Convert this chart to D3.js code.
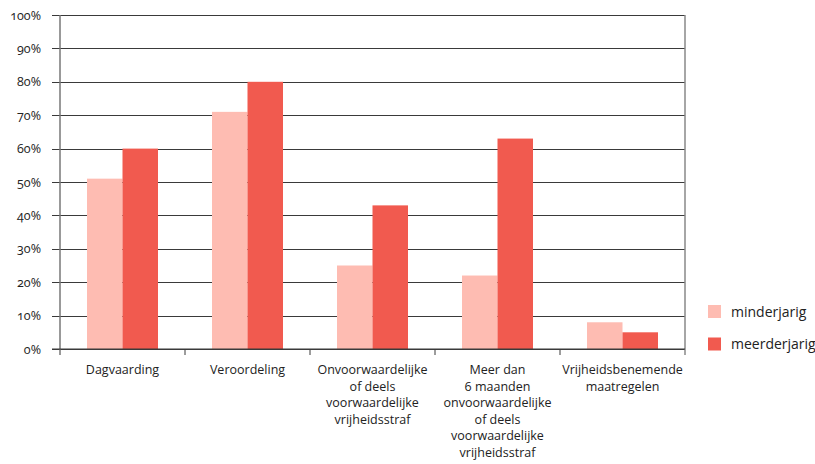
<!DOCTYPE html>
<html><head><meta charset="utf-8">
<script src="https://cdn.jsdelivr.net/npm/d3@7"></script>
<style>
body{margin:0;background:#fff;}
text{font-family:"Open Sans",sans-serif;fill:#222;}
</style></head>
<body><svg id="c" width="815" height="464"></svg>
<script>
const categories = [
  ["Dagvaarding"],
  ["Veroordeling"],
  ["Onvoorwaardelijke","of deels","voorwaardelijke","vrijheidsstraf"],
  ["Meer dan","6 maanden","onvoorwaardelijke","of deels","voorwaardelijke","vrijheidsstraf"],
  ["Vrijheidsbenemende","maatregelen"]
];
const seriesNames = ["minderjarig","meerderjarig"];
const minderjarig = [51, 71, 25, 22, 8];
const meerderjarig = [60, 80, 43, 63, 5];
const yTicks = [0,10,20,30,40,50,60,70,80,90,100];
const colors = ["#FEBCB2","#F15A4F"];

(function(){
const svg = d3.select("#c");
const L = 60, R = 685, T = 15, B = 349;
const x = d3.scaleBand().domain(d3.range(categories.length)).range([L, R]).paddingInner(0).paddingOuter(0);
const y = d3.scaleLinear().domain([0,100]).range([B, T]);
const x1 = d3.scaleBand().domain([0,1]).range([0, 71]);

svg.append("g").selectAll("line").data(yTicks).join("line")
  .attr("x1", 52).attr("x2", R).attr("y1", d=>Math.round(y(d))+0.5).attr("y2", d=>Math.round(y(d))+0.5)
  .attr("stroke", "#3a3a3a").attr("stroke-width", 1);

svg.append("g").selectAll("text").data(yTicks).join("text")
  .attr("x", 41).attr("y", d=>y(d)+4.5).attr("text-anchor","end")
  .style("font-size","12.5px").style("font-variant-numeric","oldstyle-nums")
  .text(d=>d+"%");

const data = categories.map((c,i)=>[minderjarig[i], meerderjarig[i]]);
const g = svg.append("g").selectAll("g").data(data).join("g")
  .attr("transform", (d,i)=>`translate(${x(i)+x.bandwidth()/2-35.5},0)`);
g.selectAll("rect").data(d=>d).join("rect")
  .attr("x", (d,j)=>x1(j)).attr("width", x1.bandwidth())
  .attr("y", d=>y(d)).attr("height", d=>B-y(d))
  .attr("fill", (d,j)=>colors[j]);

svg.append("line").attr("x1",L).attr("x2",L).attr("y1",T).attr("y2",B+6)
  .attr("stroke","#777").attr("stroke-width",1.5);
svg.append("line").attr("x1",R).attr("x2",R).attr("y1",T).attr("y2",B+6)
  .attr("stroke","#888").attr("stroke-width",1.5);
svg.append("line").attr("x1",52).attr("x2",R).attr("y1",B).attr("y2",B)
  .attr("stroke","#3a3a3a").attr("stroke-width",1.2);
const bounds = d3.range(1, categories.length).map(i=>x(i));
svg.append("g").selectAll("line").data(bounds).join("line")
  .attr("x1",d=>d).attr("x2",d=>d).attr("y1",B).attr("y2",B+6)
  .attr("stroke","#3a3a3a").attr("stroke-width",1);

const cl = svg.append("g").selectAll("text").data(categories).join("text")
  .attr("text-anchor","middle").style("font-size","12.5px")
  .attr("transform",(d,i)=>`translate(${x(i)+x.bandwidth()/2},${B+25})`);
cl.selectAll("tspan").data(d=>d).join("tspan")
  .attr("x",0).attr("y",(d,j)=>j*16.6).text(d=>d);

const lg = svg.append("g").selectAll("g").data(seriesNames).join("g")
  .attr("transform",(d,i)=>`translate(708,${305+i*32.5})`);
lg.append("rect").attr("width",13).attr("height",13).attr("fill",(d,i)=>colors[i]);
lg.append("text").attr("x",23).attr("y",11.5).style("font-size","14px").text(d=>d);
})();
</script></body></html>
